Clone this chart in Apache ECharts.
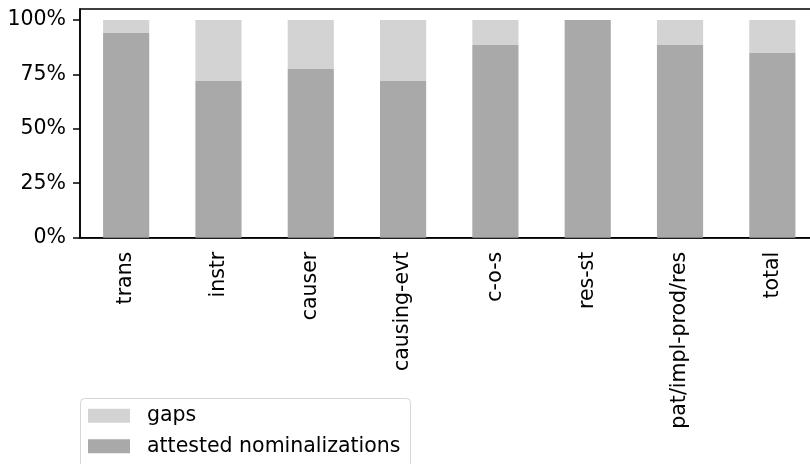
<!DOCTYPE html>
<html>
<head>
<meta charset="utf-8">
<script src="https://cdn.jsdelivr.net/npm/echarts@6/dist/echarts.min.js"></script>
<style>
  html, body { margin: 0; padding: 0; background: #fff; }
  #chart { width: 810px; height: 464px; }
</style>
</head>
<body>
<div id="chart"></div>
<script>
// Share of attested nominalizations vs. gaps per category (percent)
const categories = ['trans', 'instr', 'causer', 'causing-evt', 'c-o-s', 'res-st', 'pat/impl-prod/res', 'total'];
const attested = [94.0, 72.0, 77.5, 72.0, 88.5, 100.0, 88.5, 84.8];
const gaps = [6.0, 28.0, 22.5, 28.0, 11.5, 0.0, 11.5, 15.2];
const yTicks = [0, 25, 50, 75, 100];

const FONT = 'DejaVu Sans';
const FS = 20.5;
const chart = echarts.init(document.getElementById('chart'), null, { renderer: 'canvas' });

chart.setOption({
  animation: false,
  backgroundColor: '#ffffff',
  grid: {
    left: 80, top: 9, width: 738.5, height: 228.7,
    outerBoundsMode: 'none',
    show: true, borderColor: '#000', borderWidth: 1.5, backgroundColor: 'transparent'
  },
  // legend frame, running past the bottom edge of the canvas
  graphic: [{
    type: 'rect', z: 1,
    shape: { x: 80.5, y: 398.5, width: 330, height: 90, r: 4 },
    style: { fill: '#fff', stroke: '#d6d6d6', lineWidth: 1 }
  }],
  legend: {
    orient: 'vertical',
    left: 80, top: 398,
    z: 5,
    data: ['gaps', 'attested nominalizations'],
    icon: 'rect',
    itemWidth: 42, itemHeight: 14,
    itemGap: 9.4,
    padding: [7.3, 9, 0, 8],
    textStyle: { fontFamily: FONT, fontSize: FS, color: '#000', lineHeight: 20, padding: [0, 0, 0, 12] }
  },
  xAxis: {
    type: 'category',
    data: categories,
    axisLine: { lineStyle: { color: '#000', width: 1.5 } },
    axisTick: { alignWithLabel: true, length: 7, lineStyle: { color: '#000', width: 1.5 } },
    axisLabel: { rotate: 90, margin: 14, fontFamily: FONT, fontSize: FS, color: '#000', interval: 0 }
  },
  yAxis: {
    type: 'value',
    min: 0, max: 105,
    splitLine: { show: false },
    axisLine: { show: true, lineStyle: { color: '#000', width: 1.5 } },
    axisTick: { show: true, length: 7, customValues: yTicks, lineStyle: { color: '#000', width: 1.5 } },
    axisLabel: {
      customValues: yTicks, margin: 14,
      fontFamily: FONT, fontSize: FS, color: '#000',
      formatter: v => v + '%'
    }
  },
  series: [
    {
      name: 'attested nominalizations', type: 'bar', stack: 'share',
      barWidth: '50%', data: attested,
      itemStyle: { color: '#a9a9a9' }
    },
    {
      name: 'gaps', type: 'bar', stack: 'share',
      barWidth: '50%', data: gaps,
      itemStyle: { color: '#d3d3d3' }
    }
  ]
});
</script>
</body>
</html>
